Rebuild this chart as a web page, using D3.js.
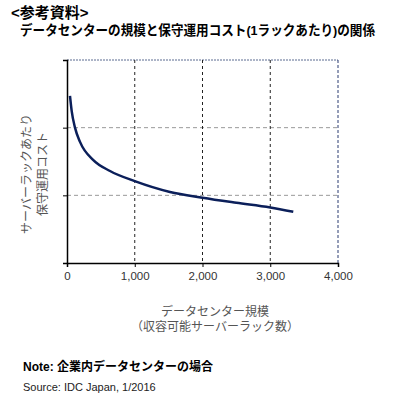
<!DOCTYPE html>
<html>
<head>
<meta charset="utf-8">
<script src="https://cdn.jsdelivr.net/npm/d3@7"></script>
<style>
  body { margin: 0; background: #fff; }
  svg text { font-family: "Liberation Sans", "Noto Sans CJK JP", sans-serif; }
</style>
</head>
<body>
<svg id="chart" width="400" height="397"></svg>
<script>
// data (rack count vs relative cost, no unit shown)
var racks = [44, 70, 118, 192, 389, 635, 1000, 1520, 2000, 2500, 3000, 3340];
var costs = [2.47, 2.24, 2.0, 1.79, 1.52, 1.36, 1.21, 1.05, 0.965, 0.89, 0.82, 0.757];
var xTicks = [0, 1000, 2000, 3000, 4000];
var yTicks = [0, 1, 2, 3];

var margin = {top: 60, right: 62, bottom: 134, left: 67},
    width = 400 - margin.left - margin.right,
    height = 397 - margin.top - margin.bottom;

var svg = d3.select("#chart");

// titles
svg.append("text").attr("x", 11).attr("y", 18)
  .style("font-size", "15px").style("font-weight", "bold")
  .text("<参考資料>");
svg.append("text").attr("x", 20).attr("y", 35)
  .attr("textLength", 355).attr("lengthAdjust", "spacingAndGlyphs")
  .style("font-size", "13.5px").style("font-weight", "bold")
  .text("データセンターの規模と保守運用コスト(1ラックあたり)の関係");

var g = svg.append("g")
  .attr("transform", "translate(" + margin.left + "," + margin.top + ")");

var x = d3.scaleLinear().domain([0, 4000]).range([0, width]);
var y = d3.scaleLinear().domain([0, 3]).range([height, 0]);

// horizontal grid
g.selectAll(".hgrid")
  .data(yTicks.slice(1, 3))
  .enter().append("line")
  .attr("x1", 0).attr("x2", width)
  .attr("y1", function(d) { return y(d); })
  .attr("y2", function(d) { return y(d); })
  .style("stroke", "#999").style("stroke-dasharray", "4,3");

// top and right border
g.append("line").attr("x1", 0).attr("x2", width).attr("y1", y(3)).attr("y2", y(3))
  .style("stroke", "#5a6a90").style("stroke-dasharray", "2,1");
g.append("line").attr("x1", width).attr("x2", width).attr("y1", 0).attr("y2", height)
  .style("stroke", "#2a3a70").style("stroke-dasharray", "3,2");

// vertical grid
g.selectAll(".vgrid")
  .data(xTicks.slice(1, 4))
  .enter().append("line")
  .attr("x1", function(d) { return x(d); })
  .attr("x2", function(d) { return x(d); })
  .attr("y1", 0).attr("y2", height)
  .style("stroke", "#222").style("stroke-dasharray", "3,3");

// axes
var xAxis = g.append("g")
  .attr("transform", "translate(0," + height + ")")
  .call(d3.axisBottom(x).tickValues(xTicks).tickSize(4).tickFormat(d3.format(",")));
xAxis.select(".domain").style("stroke", "#000").style("stroke-width", 1.5);
xAxis.selectAll("text").style("font-size", "11.5px").style("fill", "#333").attr("dy", "0.9em");

var yAxis = g.append("g")
  .call(d3.axisLeft(y).tickValues(yTicks).tickSize(4).tickFormat(""));
yAxis.select(".domain").style("stroke", "#000").style("stroke-width", 1.5);

// curve
var line = d3.line()
  .x(function(d, i) { return x(racks[i]); })
  .y(function(d) { return y(d); })
  .curve(d3.curveMonotoneX);
g.append("path")
  .datum(costs)
  .attr("d", line)
  .style("fill", "none")
  .style("stroke", "#0b1f5a")
  .style("stroke-width", 2.5);

// y axis title
var yLab = svg.append("text")
  .attr("transform", "translate(31,174) rotate(-90)")
  .attr("text-anchor", "middle")
  .style("font-size", "12px").style("fill", "#555");
yLab.append("tspan").attr("x", 0).attr("y", 0).text("サーバーラックあたり");
yLab.append("tspan").attr("x", 0).attr("y", 16).text("保守運用コスト");

// x axis title
svg.append("text").attr("x", 215).attr("y", 316).attr("text-anchor", "middle")
  .style("font-size", "12px").style("fill", "#555")
  .text("データセンター規模");
svg.append("text").attr("x", 215).attr("y", 331).attr("text-anchor", "middle")
  .style("font-size", "12px").style("fill", "#555")
  .text("（収容可能サーバーラック数）");

// notes
svg.append("text").attr("x", 23).attr("y", 371)
  .style("font-size", "12px").style("font-weight", "bold")
  .text("Note: 企業内データセンターの場合");
svg.append("text").attr("x", 23).attr("y", 391)
  .style("font-size", "11px").style("fill", "#222")
  .text("Source: IDC Japan, 1/2016");
</script>
</body>
</html>
